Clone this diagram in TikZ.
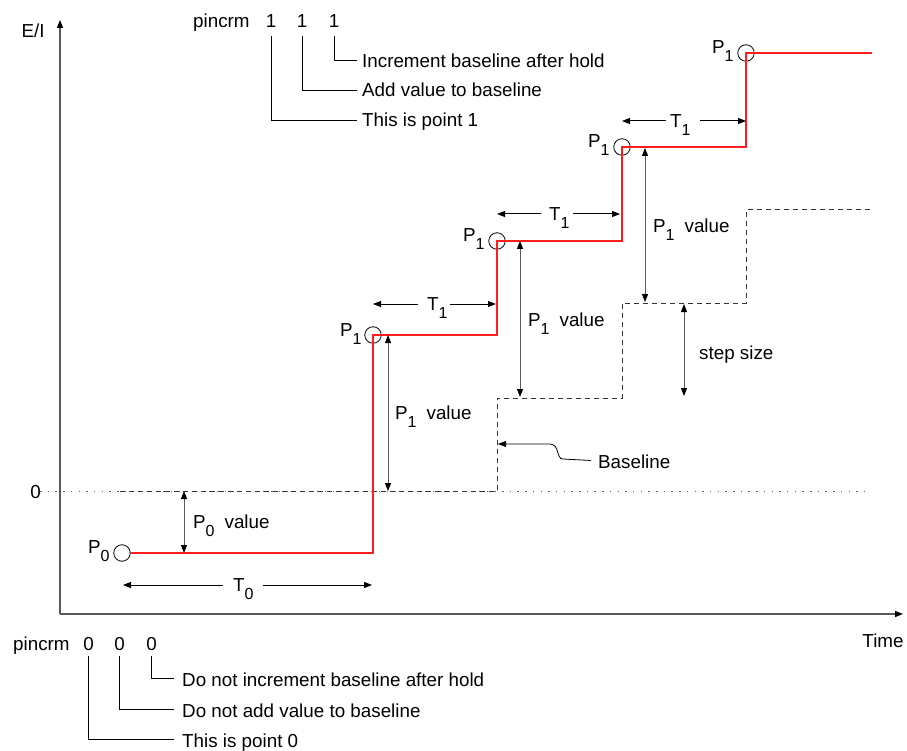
\documentclass[tikz,border=0pt]{standalone}
\usepackage{fontspec}
\setmainfont{Liberation Sans}
\usetikzlibrary{arrows.meta}
\definecolor{profred}{RGB}{255,30,30}
\newcommand\Sb[1]{\raisebox{-8pt}{\fontsize{16}{16}\selectfont #1}}
\begin{document}
\begin{tikzpicture}[x=1pt,y=-1pt,
  every node/.style={inner sep=0pt, font=\fontsize{18.8}{21}\selectfont},
  txt/.style={anchor=base west},
  ctr/.style={anchor=base},
  axisline/.style={draw=black!65, line width=1.4pt, -{Triangle[length=8pt,width=6pt,color=black]}},
  zeroline/.style={draw=black!60, line width=1pt, dash pattern=on 1.5pt off 6.2pt},
  baseln/.style={draw=black!80, line width=1pt, dash pattern=on 5pt off 4pt},
  redline/.style={draw=profred, line width=1.9pt},
  pcirc/.style={circle, draw=black, line width=0.8pt, minimum size=16.5pt},
  dimv/.style={draw=black!65, line width=1pt, {Triangle[length=8pt,width=6pt,color=black]}-{Triangle[length=8pt,width=6pt,color=black]}},
  dimh/.style={draw=black, line width=1pt, -{Triangle[length=8pt,width=6pt]}},
  leader/.style={draw=black, line width=0.8pt},
  callout/.style={draw=black, line width=0.8pt, -{Triangle[length=8pt,width=6pt]}}
]
\useasboundingbox (0,0) rectangle (907,751);

% axes
\coordinate (O) at (60,614);
\coordinate (Ytop) at (60,20);
\coordinate (Xend) at (903,614);
\draw[axisline] (O) -- (Ytop);
\draw[axisline] (O) -- (Xend);
\node[ctr] (EI) at (33,38) {E/I};
\node[ctr] (time) at (883,647) {Time};
\node[ctr] (zero) at (35.5,498) {0};

% zero line
\coordinate (z0) at (40,491);
\coordinate (z1) at (870,491);
\draw[zeroline] (z0) -- (z1);

% dashed baseline
\coordinate (b0) at (120,491);
\coordinate (b1) at (497,491);
\coordinate (b2) at (497,398);
\coordinate (b3) at (622,398);
\coordinate (b4) at (622,303);
\coordinate (b5) at (746,303);
\coordinate (b6) at (746,210);
\coordinate (b7) at (872,210);
\draw[baseln] (b0) -- (b1) -- (b2) -- (b3) -- (b4) -- (b5) -- (b6) -- (b7);

% points
\node[pcirc] (c0) at (122,553) {};
\node[pcirc] (c1) at (373,335) {};
\node[pcirc] (c2) at (497,241) {};
\node[pcirc] (c3) at (622,147) {};
\node[pcirc] (c4) at (746,53) {};
\coordinate (rend) at (872,53);

% red profile
\draw[redline] (c0.east) -- (c0.east -| c1.center) -- (c1.center)
  -- (c1.center -| c2.center) -- (c2.center)
  -- (c2.center -| c3.center) -- (c3.center)
  -- (c3.center -| c4.center) -- (c4.center) -- (rend);

% point labels
\node[txt] (p0) at ([xshift=-34pt,yshift=0pt]c0.center) {P\Sb{0}};
\node[txt] (p1) at ([xshift=-33pt,yshift=-1pt]c1.center) {P\Sb{1}};
\node[txt] (p2) at ([xshift=-34pt,yshift=-1pt]c2.center) {P\Sb{1}};
\node[txt] (p3) at ([xshift=-34pt,yshift=-1pt]c3.center) {P\Sb{1}};
\node[txt] (p4) at ([xshift=-34pt,yshift=-1pt]c4.center) {P\Sb{1}};

% P0 value
\coordinate (v0t) at (184,491);
\coordinate (v0b) at (184,553);
\draw[dimv] (v0t) -- (v0b);
\node[txt] (v0l) at (193,528.5) {P\Sb{0}\hspace{10pt}value};

% T0
\node[txt] (t0) at (233,591.5) {T\Sb{0}};
\coordinate (t0a) at (223,585);
\coordinate (t0b) at (263,585);
\coordinate (t0L) at (123,585);
\coordinate (t0R) at (372,585);
\draw[dimh] (t0a) -- (t0L);
\draw[dimh] (t0b) -- (t0R);

% P1 value #1
\coordinate (v1t) at (388,335);
\coordinate (v1b) at (388,491);
\draw[dimv] (v1t) -- (v1b);
\node[txt] (v1l) at (395,419.5) {P\Sb{1}\hspace{10pt}value};

% T1 #1
\node[txt] (t1) at (427,310.5) {T\Sb{1}};
\coordinate (t1a) at (418,304);
\coordinate (t1b) at (450,304);
\coordinate (t1L) at (373,304);
\coordinate (t1R) at (496,304);
\draw[dimh] (t1a) -- (t1L);
\draw[dimh] (t1b) -- (t1R);

% P1 value #2
\coordinate (v2t) at (520,241);
\coordinate (v2b) at (520,397);
\draw[dimv] (v2t) -- (v2b);
\node[txt] (v2l) at (528,326.5) {P\Sb{1}\hspace{10pt}value};

% T1 #2
\node[txt] (t2) at (549,220.5) {T\Sb{1}};
\coordinate (t2a) at (541,214);
\coordinate (t2b) at (573,214);
\coordinate (t2L) at (497,214);
\coordinate (t2R) at (620,214);
\draw[dimh] (t2a) -- (t2L);
\draw[dimh] (t2b) -- (t2R);

% P1 value #3
\coordinate (v3t) at (645,148);
\coordinate (v3b) at (645,302);
\draw[dimv] (v3t) -- (v3b);
\node[txt] (v3l) at (653,232.5) {P\Sb{1}\hspace{10pt}value};

% T1 #3
\node[txt] (t3) at (670,127.5) {T\Sb{1}};
\coordinate (t3a) at (666,121);
\coordinate (t3b) at (700,121);
\coordinate (t3L) at (622,121);
\coordinate (t3R) at (746,121);
\draw[dimh] (t3a) -- (t3L);
\draw[dimh] (t3b) -- (t3R);

% step size
\coordinate (sst) at (684,304);
\coordinate (ssb) at (684,396);
\draw[dimv] (sst) -- (ssb);
\node[txt] (ssl) at (699,359.5) {step size};

% Baseline callout
\node[txt] (bl) at (598,468.5) {Baseline};
\coordinate (bltip) at (498,444);
\draw[callout] ([xshift=-7pt,yshift=8pt]bl.base west) -- (563,459)
  .. controls (556,459) and (560,444.5) .. (550,444) -- (bltip);

% top pincrm
\node[txt] (pinT) at (193,28) {pincrm};
\node[ctr] (dT1) at (271,28) {1};
\node[ctr] (dT2) at (302,28) {1};
\node[ctr] (dT3) at (334,28) {1};
\node[txt] (tT3) at (362,68) {Increment baseline after hold};
\node[txt] (tT2) at (362,97) {Add value to baseline};
\node[txt] (tT1) at (362,127) {This is point 1};
\draw[leader] ([yshift=-8pt]dT1.base) |- ([xshift=-5pt,yshift=7pt]tT1.base west);
\draw[leader] ([yshift=-8pt]dT2.base) |- ([xshift=-5pt,yshift=7pt]tT2.base west);
\draw[leader] ([yshift=-8pt]dT3.base) |- ([xshift=-5pt,yshift=7.5pt]tT3.base west);

% bottom pincrm
\node[txt] (pinB) at (13,650) {pincrm};
\node[ctr] (dB1) at (88.5,650) {0};
\node[ctr] (dB2) at (119.5,650) {0};
\node[ctr] (dB3) at (151.5,650) {0};
\node[txt] (tB3) at (182,686) {Do not increment baseline after hold};
\node[txt] (tB2) at (182,717) {Do not add value to baseline};
\node[txt] (tB1) at (182,747) {This is point 0};
\draw[leader] ([yshift=-6pt]dB1.base) |- ([xshift=-8pt,yshift=7.5pt]tB1.base west);
\draw[leader] ([yshift=-6pt]dB2.base) |- ([xshift=-8pt,yshift=7.5pt]tB2.base west);
\draw[leader] ([yshift=-6pt]dB3.base) |- ([xshift=-8pt,yshift=7.5pt]tB3.base west);
\end{tikzpicture}
\end{document}
